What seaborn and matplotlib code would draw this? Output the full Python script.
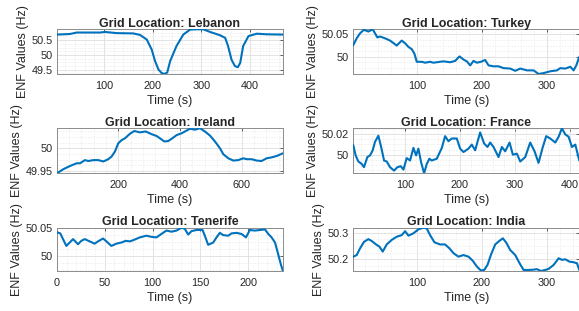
import numpy as np
import pandas as pd
import seaborn as sns
import matplotlib
matplotlib.use("Agg")
import matplotlib.pyplot as plt
from matplotlib.ticker import MultipleLocator, AutoMinorLocator, FormatStrFormatter

# ---- data ----
lebanon_t = [3.4, 30, 44, 92, 102, 126, 160, 174, 188, 198, 205, 212, 218, 224, 230, 236,
             249, 263, 277, 290, 304, 318, 338, 349, 355, 362, 369, 375, 380, 386, 397,
             414, 434, 467.8]
lebanon_f = [50.69, 50.71, 50.76, 50.76, 50.78, 50.74, 50.73, 50.68, 50.52, 50.18, 49.79,
             49.50, 49.39, 49.35, 49.40, 49.79, 50.30, 50.69, 50.86, 50.87, 50.87, 50.78,
             50.67, 50.58, 50.30, 49.84, 49.62, 49.58, 49.73, 50.30, 50.64, 50.72, 50.70, 50.69]

turkey_t = [2.5, 7.7, 12.8, 19, 25.6, 32.3, 39.5, 43.6, 51.3, 59, 69.2, 76.9, 82.1, 87.2,
            92.3, 96.4, 100, 107.7, 112.8, 120.5, 125.6, 141, 151.3, 159, 165.6, 171.8,
            176.9, 182.1, 187.2, 192.3, 198.5, 205.1, 210.3, 217.9, 225.6, 233.3, 243.6,
            251.3, 259, 269.2, 279.5, 287.2, 294.9, 305.1, 315.4, 320.5, 328.2, 335.9,
            341, 345.1, 349.7]
turkey_f = [50.026, 50.041, 50.052, 50.060, 50.056, 50.061, 50.043, 50.045, 50.041, 50.036,
            50.025, 50.036, 50.030, 50.022, 50.017, 50.007, 49.989, 49.989, 49.987, 49.989,
            49.987, 49.990, 49.988, 49.991, 50.001, 49.994, 49.990, 49.981, 49.991, 49.987,
            49.989, 49.993, 49.981, 49.979, 49.979, 49.975, 49.974, 49.969, 49.974, 49.970,
            49.970, 49.962, 49.964, 49.968, 49.970, 49.975, 49.974, 49.978, 49.970, 49.981,
            50.000]

ireland_t = [1.3, 21.8, 43.4, 65, 75.8, 92, 102.9, 119, 135.3, 151.5, 167.7, 178.5, 189.3,
             200, 210.9, 221.7, 237.9, 252, 270.3, 288.7, 308.2, 324.4, 335.2, 349.2, 362.2,
             373, 389.2, 405.4, 416.2, 432.4, 448.6, 464.8, 481, 497.2, 513.5, 529.7, 540.5,
             556.7, 572.9, 589.1, 605.3, 616.1, 632.3, 648.5, 664.7, 680.9, 697.1, 713.4,
             733.9]
ireland_f = [49.945, 49.954, 49.961, 49.967, 49.967, 49.974, 49.972, 49.974, 49.974, 49.971,
             49.976, 49.982, 49.993, 50.011, 50.018, 50.022, 50.032, 50.038, 50.035, 50.037,
             50.031, 50.027, 50.022, 50.015, 50.016, 50.021, 50.029, 50.033, 50.037, 50.043,
             50.041, 50.044, 50.037, 50.028, 50.015, 50.000, 49.987, 49.978, 49.973, 49.974,
             49.978, 49.976, 49.976, 49.973, 49.972, 49.978, 49.980, 49.983, 49.989]

france_t = [5.6, 9.9, 14.8, 20.9, 25.1, 31.2, 36.1, 41, 45.2, 51.3, 55.6, 61.7, 66.5, 72.6,
            79.9, 86, 92.1, 97, 103, 109.1, 115.2, 120.1, 124.3, 129.2, 134.7, 139.6, 144.4,
            148.7, 157.8, 167, 173, 179.1, 185.2, 194.3, 200.4, 206.5, 215.6, 221.7, 227.8,
            236.9, 244.2, 250.3, 255.2, 261.3, 270.4, 276.5, 282.6, 290.5, 296.6, 303.9, 310,
            319.1, 328.2, 336.1, 343.4, 350.7, 357.4, 364.7, 373.9, 380, 386, 392.1, 398.2,
            404.3, 410.4, 417.7]
france_f = [50.0092, 49.9993, 49.9934, 49.9911, 49.9879, 49.9977, 49.9993, 50.0043, 50.0125,
            50.0184, 50.0092, 49.9944, 49.9934, 49.9879, 49.9846, 49.9879, 49.9889, 49.9856,
            49.9967, 49.9944, 50.0066, 49.9993, 50.0059, 49.9928, 49.9820, 49.9911, 49.9961,
            49.9944, 49.9961, 50.0066, 50.0180, 50.0131, 50.0157, 50.0157, 50.0059, 50.0026,
            50.0059, 50.0098, 50.0043, 50.0216, 50.0108, 50.0075, 50.0118, 50.0075, 49.9977,
            50.0075, 50.0033, 50.0118, 50.0000, 50.0010, 49.9934, 49.9977, 50.0118, 50.0033,
            49.9921, 50.0066, 50.0180, 50.0157, 50.0118, 50.0174, 50.0256, 50.0197, 50.0174,
            50.0075, 50.0098, 49.9944]

tenerife_t = [0, 3.5, 6.3, 9.8, 13.3, 16.8, 22, 25.5, 29, 34.2, 39.4, 42.9, 48.2, 51.7, 56.9,
              62.1, 67.4, 71.9, 76.1, 79.6, 86.6, 93.5, 98.8, 104, 109.2, 114.5, 119.7, 125,
              130.2, 133.7, 137.2, 140.7, 145.9, 152.2, 154.6, 158.1, 163.4, 166.8, 170.3,
              173.8, 179.1, 182.5, 187.8, 193, 197.6, 201.7, 207, 212.2, 217.5, 221, 224.4,
              228, 231.4, 234.2, 236.3]
tenerife_f = [50.042, 50.040, 50.030, 50.018, 50.024, 50.030, 50.021, 50.027, 50.030, 50.026,
              50.022, 50.026, 50.031, 50.026, 50.018, 50.022, 50.024, 50.027, 50.026, 50.028,
              50.033, 50.036, 50.034, 50.033, 50.039, 50.045, 50.043, 50.045, 50.050, 50.048,
              50.038, 50.044, 50.046, 50.046, 50.036, 50.020, 50.024, 50.033, 50.041, 50.037,
              50.036, 50.040, 50.041, 50.039, 50.033, 50.046, 50.045, 50.046, 50.047, 50.039,
              50.033, 50.024, 50.003, 49.985, 49.974]

india_t = [2.5, 7.7, 12.8, 19, 25.6, 30.8, 37.4, 42.6, 47.7, 53.8, 61.5, 69.2, 76.9, 82.1,
           87.2, 94.9, 102.6, 110.3, 115.4, 120.5, 127.2, 135.9, 143.6, 150.3, 156.4, 164.1,
           171.8, 179.5, 186.2, 192.3, 198.5, 203.6, 208.7, 213.8, 220.5, 226.7, 232.3,
           237.4, 243.6, 251.3, 258, 264.1, 271.8, 279.5, 284.6, 290.8, 297.4, 302.6, 310.3,
           318, 323.1, 328.2, 334.9, 341, 346.2, 349.7]
india_f = [50.210, 50.216, 50.241, 50.266, 50.276, 50.269, 50.256, 50.248, 50.229, 50.256,
           50.273, 50.285, 50.291, 50.306, 50.289, 50.298, 50.313, 50.319, 50.316, 50.291,
           50.264, 50.256, 50.256, 50.241, 50.223, 50.210, 50.216, 50.210, 50.194, 50.173,
           50.158, 50.160, 50.179, 50.216, 50.256, 50.269, 50.279, 50.263, 50.235, 50.216,
           50.185, 50.160, 50.160, 50.161, 50.163, 50.156, 50.160, 50.164, 50.179, 50.204,
           50.198, 50.200, 50.191, 50.189, 50.185, 50.160]

panels = [
    ("Lebanon", lebanon_t, lebanon_f, 100, 0.5),
    ("Turkey", turkey_t, turkey_f, 100, 0.05),
    ("Ireland", ireland_t, ireland_f, 200, 0.05),
    ("France", france_t, france_f, 100, 0.02),
    ("Tenerife", tenerife_t, tenerife_f, 50, 0.05),
    ("India", india_t, india_f, 100, 0.1),
]

sns.set_style("white")
plt.rcParams['font.family'] = ['Liberation Sans', 'DejaVu Sans']

fig = plt.figure(figsize=(5.79, 3.11), dpi=100)

lefts = [0.0984, 0.6102]
width = 0.3903
rows = [(0.7621, 0.1437), (0.4428, 0.1447), (0.1286, 0.1392)]

for i, (name, t, f, xstep, ystep) in enumerate(panels):
    b, h = rows[i // 2]
    ax = fig.add_axes([lefts[i % 2], b, width, h])
    df = pd.DataFrame({"t": t, "f": f})
    sns.lineplot(data=df, x="t", y="f", ax=ax, color="#0072BD", linewidth=1.5, zorder=3)
    ax.set_xlim(min(t), max(t))
    ax.set_ylim(min(f), max(f))

    ax.xaxis.set_major_locator(MultipleLocator(xstep))
    ax.yaxis.set_major_locator(MultipleLocator(ystep))
    ax.xaxis.set_minor_locator(AutoMinorLocator(5))
    ax.yaxis.set_minor_locator(AutoMinorLocator(4))
    ax.yaxis.set_major_formatter(FormatStrFormatter('%g'))
    ax.xaxis.set_major_formatter(FormatStrFormatter('%g'))

    ax.grid(True, which='major', color='#dedede', linewidth=0.6)
    ax.grid(True, which='minor', color='#e8e8e8', linewidth=0.5, linestyle=(0, (2, 2)))
    ax.set_axisbelow(True)

    ax.tick_params(which='major', direction='in', length=2.5, width=0.5,
                   top=True, right=True, labelsize=7.8, colors='#262626')
    ax.tick_params(axis='x', which='major', pad=5)
    ax.tick_params(axis='y', which='major', pad=3)
    ax.tick_params(which='minor', length=0)
    for s in ax.spines.values():
        s.set_color('#8c8c8c')
        s.set_linewidth(0.7)

    ax.set_title(f"Grid Location: {name}", fontsize=9, fontweight='bold', pad=2)
    ax.set_xlabel("Time (s)", fontsize=9, color='#262626', labelpad=3)
    ax.set_ylabel("ENF Values (Hz)", fontsize=9, color='#262626', labelpad=2)

plt.savefig("out.png", dpi=100)
